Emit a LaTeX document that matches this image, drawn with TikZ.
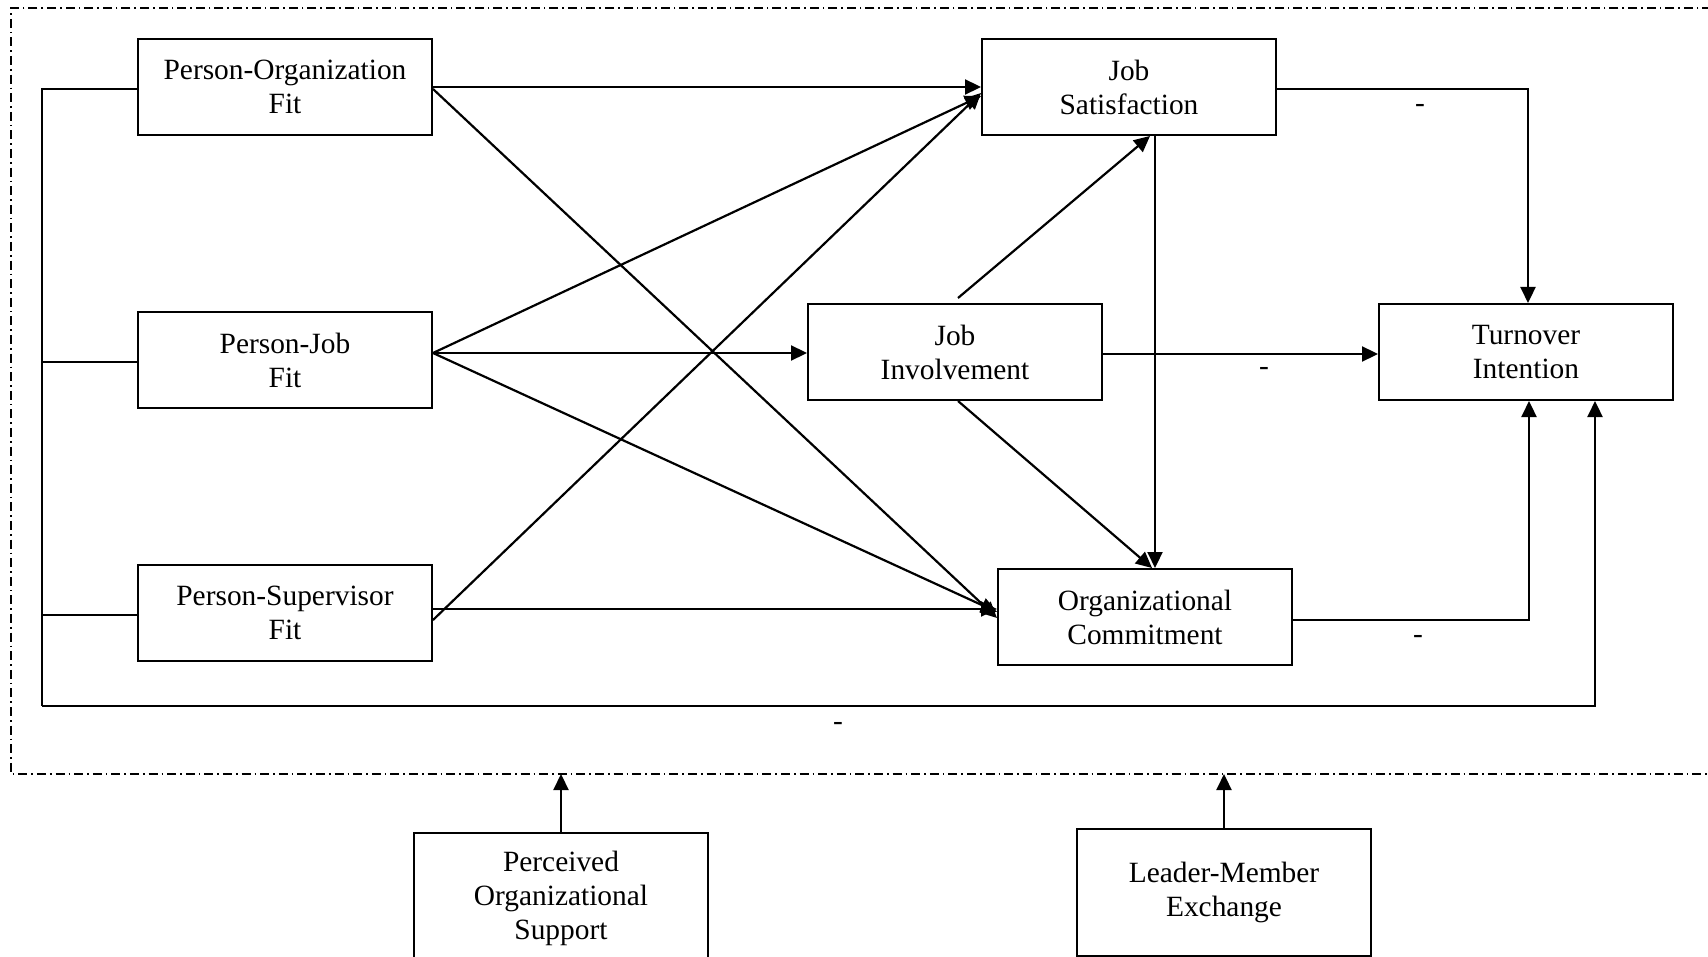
\documentclass[tikz,border=0pt]{standalone}
\usepackage{fontspec}
\setmainfont{Liberation Serif}
\usetikzlibrary{arrows.meta,calc}
\begin{document}
\begin{tikzpicture}[x=0.5pt,y=-0.5pt,
  box/.style={draw,line width=1pt,minimum width=147pt,minimum height=48pt,inner sep=0pt,align=center,font=\fontsize{14.7}{17}\selectfont},
  arr/.style={line width=1.1pt,-{Triangle[length=8pt,width=7.5pt]}},
  ln/.style={line width=1.1pt},
  border/.style={line width=0.7pt,dash pattern=on 4.5pt off 2pt on 0.8pt off 2pt},
  lbl/.style={font=\fontsize{14.7}{17}\selectfont,inner sep=0pt}]
\useasboundingbox (0,0) rectangle (1708,957);
\clip (0,0) rectangle (1708,957);
\fill[white] (0,0) rectangle (1708,957);
% nodes
\node[box] (PO) at (285,87) {Person-Organization\\Fit};
\node[box] (PJ) at (285,360) {Person-Job\\Fit};
\node[box] (PS) at (285,613) {Person-Supervisor\\Fit};
\node[box] (JS) at (1129,87) {Job\\Satisfaction};
\node[box] (JI) at (955,352) {Job\\Involvement};
\node[box] (OC) at (1145,617) {Organizational\\Commitment};
\node[box] (TI) at (1526,352) {Turnover\\Intention};
\node[box,minimum height=65pt] (POS) at (561,898) {Perceived\\Organizational\\Support};
\node[box,minimum height=63.5pt] (LMX) at (1224,892) {Leader-Member\\Exchange};
% border
\draw[border] (1730,8) -- (11,8) -- (11,774) -- (1730,774);
\coordinate (bb) at (0,774);
\draw[arr] (POS.north) -- (POS.north |- bb);
\draw[arr] (LMX.north) -- (LMX.north |- bb);
% left bracket
\coordinate (lt) at (42,89);
\coordinate (lb) at (42,706);
\draw[ln] ($(PO.west)+(0,2)$) -- (lt) -- (lb);
\draw[ln] ($(PJ.west)+(0,2)$) -- ($(PJ.west -| lt)+(0,2)$);
\draw[ln] ($(PS.west)+(0,2)$) -- ($(PS.west -| lt)+(0,2)$);
\draw[arr] (lb) -| ($(TI.south)+(69,0)$);
% arrows from PO
\draw[arr] ($(PO.east)+(0,0)$) -- ($(JS.west)+(0,0)$);
\draw[arr] ($(PO.east)+(0,2)$) -- ($(OC.west)+(0,1)$);
% arrows from PJ
\coordinate (pj) at ($(PJ.east)+(0,-7)$);
\draw[arr] (pj) -- ($(JS.west)+(0,9)$);
\draw[arr] (pj) -- (pj -| JI.west);
\draw[arr] (pj) -- ($(OC.west)+(0,-5)$);
% arrows from PS
\coordinate (ps1) at ($(PS.east)+(0,-4)$);
\draw[arr] (ps1) -- (ps1 -| OC.west);
\draw[arr] ($(PS.east)+(0,7)$) -- ($(JS.west)+(0,6)$);
% mediators
\draw[arr] ($(JI.north)+(3,-5)$) -- ($(JS.south)+(21,0)$);
\draw[arr] ($(JI.south)+(3,0)$) -- ($(OC.north)+(7,0)$);
\coordinate (js1) at ($(JS.south)+(26,0)$);
\draw[arr] (js1) -- (js1 |- OC.north);
% to turnover
\draw[arr] ($(JS.east)+(0,2)$) -| ($(TI.north)+(2,0)$);
\draw[arr] ($(JI.east)+(0,2)$) -- ($(TI.west)+(0,2)$);
\draw[arr] ($(OC.east)+(0,3)$) -| ($(TI.south)+(3,0)$);
% minus labels
\node[lbl] (m1) at (1420,108) {-};
\node[lbl] (m2) at (1264,371) {-};
\node[lbl] (m3) at (1418,639) {-};
\node[lbl] (m4) at (838,726) {-};
\end{tikzpicture}
\end{document}
